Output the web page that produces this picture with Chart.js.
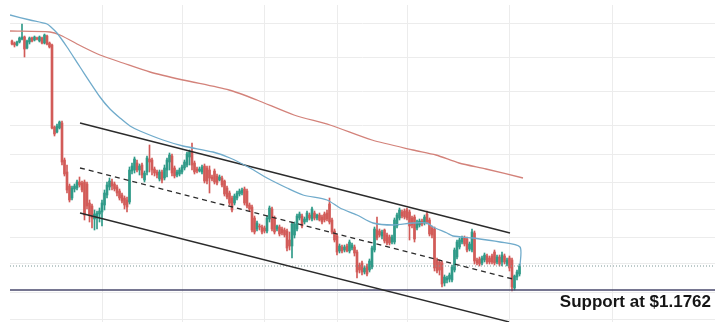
<!DOCTYPE html>
<html>
<head>
<meta charset="utf-8">
<title>EUR/USD channel</title>
<script src="https://cdn.jsdelivr.net/npm/chart.js@4.4.1/dist/chart.umd.min.js"></script>
<style>
  html, body { margin: 0; padding: 0; background: #fff; }
  #chart { display: block; }
</style>
</head>
<body>
<canvas id="chart" width="715" height="322"></canvas>
<script>
// OHLC candles, one per bar index
const opens = [
  1.2011,1.2009,1.2007,1.2010,1.2013,1.2015,1.2004,1.2010,1.2014,1.2012,1.2014,1.2011,
  1.2014,1.2009,1.2016,1.2009,1.2007,1.1925,1.1920,1.1924,1.1929,1.1892,1.1880,1.1866,
  1.1854,1.1863,1.1864,1.1870,1.1869,1.1870,1.1868,1.1849,1.1846,1.1833,1.1834,1.1838,
  1.1840,1.1847,1.1857,1.1865,1.1870,1.1868,1.1865,1.1861,1.1857,1.1854,1.1852,1.1850,
  1.1881,1.1882,1.1889,1.1882,1.1887,1.1872,1.1880,1.1893,1.1892,1.1883,1.1880,1.1873,
  1.1880,1.1874,1.1882,1.1890,1.1896,1.1884,1.1877,1.1878,1.1880,1.1884,1.1887,1.1895,
  1.1900,1.1889,1.1883,1.1881,1.1880,1.1886,1.1884,1.1882,1.1875,1.1881,1.1876,1.1872,
  1.1874,1.1871,1.1864,1.1859,1.1854,1.1849,1.1854,1.1858,1.1859,1.1863,1.1861,1.1847,
  1.1845,1.1834,1.1823,1.1826,1.1825,1.1824,1.1821,1.1833,1.1843,1.1834,1.1823,1.1825,
  1.1823,1.1822,1.1821,1.1812,1.1806,1.1817,1.1823,1.1834,1.1836,1.1830,1.1832,1.1837,
  1.1833,1.1839,1.1834,1.1837,1.1835,1.1838,1.1839,1.1848,1.1832,1.1821,1.1816,1.1801,
  1.1805,1.1802,1.1806,1.1801,1.1804,1.1805,1.1800,1.1787,1.1789,1.1780,1.1786,1.1782,
  1.1785,1.1802,1.1822,1.1821,1.1816,1.1822,1.1817,1.1815,1.1810,1.1810,1.1826,1.1834,
  1.1840,1.1841,1.1842,1.1840,1.1834,1.1835,1.1824,1.1827,1.1831,1.1829,1.1838,1.1832,
  1.1824,1.1823,1.1792,1.1790,1.1789,1.1769,1.1772,1.1773,1.1772,1.1782,1.1795,1.1805,
  1.1810,1.1814,1.1813,1.1803,1.1802,1.1819,1.1792,1.1793,1.1789,1.1792,1.1796,1.1794,
  1.1796,1.1800,1.1790,1.1795,1.1790,1.1796,1.1788,1.1794,1.1792,1.1764,1.1775,1.1778
];
const highs = [
  1.2012,1.2010,1.2011,1.2015,1.2028,1.2016,1.2012,1.2015,1.2015,1.2016,1.2015,1.2016,
  1.2015,1.2018,1.2017,1.2010,1.2008,1.1926,1.1928,1.1931,1.1931,1.1894,1.1887,1.1868,
  1.1866,1.1868,1.1872,1.1875,1.1871,1.1872,1.1870,1.1852,1.1848,1.1842,1.1841,1.1844,
  1.1852,1.1862,1.1870,1.1874,1.1873,1.1870,1.1867,1.1863,1.1859,1.1856,1.1855,1.1885,
  1.1889,1.1895,1.1892,1.1888,1.1889,1.1881,1.1896,1.1907,1.1894,1.1885,1.1882,1.1882,
  1.1882,1.1887,1.1894,1.1899,1.1898,1.1886,1.1882,1.1884,1.1887,1.1892,1.1900,1.1902,
  1.1909,1.1891,1.1885,1.1885,1.1887,1.1888,1.1886,1.1886,1.1877,1.1883,1.1878,1.1877,
  1.1876,1.1872,1.1866,1.1861,1.1856,1.1858,1.1861,1.1863,1.1864,1.1865,1.1863,1.1849,
  1.1847,1.1836,1.1831,1.1828,1.1827,1.1826,1.1836,1.1846,1.1845,1.1836,1.1827,1.1827,
  1.1825,1.1824,1.1823,1.1820,1.1830,1.1830,1.1838,1.1840,1.1838,1.1835,1.1841,1.1839,
  1.1845,1.1841,1.1838,1.1839,1.1837,1.1840,1.1842,1.1854,1.1834,1.1823,1.1818,1.1808,
  1.1807,1.1807,1.1808,1.1812,1.1809,1.1807,1.1802,1.1789,1.1791,1.1786,1.1788,1.1793,
  1.1806,1.1825,1.1835,1.1823,1.1822,1.1823,1.1819,1.1817,1.1817,1.1834,1.1839,1.1844,
  1.1842,1.1843,1.1844,1.1842,1.1836,1.1837,1.1832,1.1833,1.1833,1.1837,1.1841,1.1834,
  1.1826,1.1825,1.1794,1.1792,1.1791,1.1777,1.1776,1.1779,1.1787,1.1804,1.1812,1.1814,
  1.1816,1.1816,1.1815,1.1810,1.1823,1.1821,1.1794,1.1795,1.1796,1.1799,1.1798,1.1796,
  1.1798,1.1802,1.1797,1.1797,1.1800,1.1798,1.1794,1.1796,1.1794,1.1777,1.1782,1.1788
];
const lows = [
  1.2007,1.2005,1.2006,1.2009,1.2012,1.1995,1.2003,1.2008,1.2010,1.2011,1.2012,1.2010,
  1.2008,1.2008,1.2007,1.2004,1.1923,1.1916,1.1919,1.1923,1.1887,1.1876,1.1859,1.1850,
  1.1852,1.1860,1.1862,1.1865,1.1860,1.1832,1.1843,1.1830,1.1824,1.1822,1.1823,1.1830,
  1.1826,1.1842,1.1854,1.1862,1.1862,1.1861,1.1856,1.1852,1.1849,1.1843,1.1840,1.1848,
  1.1878,1.1879,1.1880,1.1877,1.1874,1.1870,1.1877,1.1880,1.1877,1.1876,1.1874,1.1871,
  1.1869,1.1872,1.1875,1.1882,1.1876,1.1874,1.1875,1.1876,1.1878,1.1882,1.1885,1.1887,
  1.1882,1.1878,1.1879,1.1880,1.1878,1.1869,1.1868,1.1859,1.1871,1.1868,1.1867,1.1871,
  1.1865,1.1856,1.1853,1.1847,1.1840,1.1847,1.1852,1.1856,1.1857,1.1847,1.1844,1.1841,
  1.1820,1.1818,1.1821,1.1822,1.1818,1.1819,1.1819,1.1830,1.1821,1.1818,1.1821,1.1816,
  1.1817,1.1815,1.1801,1.1802,1.1794,1.1814,1.1821,1.1832,1.1824,1.1828,1.1830,1.1832,
  1.1831,1.1832,1.1832,1.1831,1.1828,1.1830,1.1831,1.1828,1.1818,1.1810,1.1797,1.1799,
  1.1799,1.1800,1.1800,1.1799,1.1802,1.1796,1.1774,1.1779,1.1777,1.1778,1.1776,1.1780,
  1.1783,1.1800,1.1812,1.1815,1.1813,1.1809,1.1807,1.1807,1.1808,1.1808,1.1824,1.1832,
  1.1834,1.1833,1.1832,1.1812,1.1824,1.1810,1.1822,1.1825,1.1826,1.1827,1.1828,1.1816,
  1.1814,1.1781,1.1779,1.1777,1.1765,1.1766,1.1769,1.1770,1.1770,1.1780,1.1793,1.1803,
  1.1808,1.1806,1.1800,1.1801,1.1800,1.1788,1.1787,1.1786,1.1787,1.1790,1.1788,1.1788,
  1.1788,1.1787,1.1788,1.1786,1.1786,1.1788,1.1786,1.1781,1.1761,1.1762,1.1772,1.1776
];
const closes = [
  1.2008,1.2007,1.2010,1.2014,1.2015,1.2003,1.2011,1.2014,1.2011,1.2015,1.2013,1.2015,
  1.2009,1.2017,1.2008,1.2005,1.1924,1.1918,1.1926,1.1930,1.1890,1.1878,1.1862,1.1852,
  1.1864,1.1866,1.1870,1.1867,1.1862,1.1837,1.1846,1.1837,1.1834,1.1838,1.1839,1.1841,
  1.1849,1.1859,1.1867,1.1871,1.1866,1.1863,1.1859,1.1854,1.1851,1.1847,1.1845,1.1882,
  1.1886,1.1893,1.1882,1.1886,1.1877,1.1879,1.1894,1.1890,1.1882,1.1879,1.1877,1.1880,
  1.1872,1.1884,1.1892,1.1897,1.1879,1.1876,1.1880,1.1882,1.1885,1.1890,1.1898,1.1900,
  1.1887,1.1880,1.1881,1.1883,1.1885,1.1871,1.1871,1.1874,1.1873,1.1870,1.1869,1.1875,
  1.1867,1.1858,1.1855,1.1849,1.1842,1.1856,1.1859,1.1861,1.1862,1.1849,1.1846,1.1843,
  1.1822,1.1820,1.1829,1.1825,1.1820,1.1821,1.1834,1.1844,1.1823,1.1820,1.1826,1.1818,
  1.1819,1.1817,1.1804,1.1806,1.1828,1.1828,1.1836,1.1838,1.1826,1.1833,1.1839,1.1834,
  1.1843,1.1834,1.1837,1.1832,1.1830,1.1832,1.1833,1.1830,1.1820,1.1812,1.1800,1.1806,
  1.1801,1.1805,1.1801,1.1810,1.1807,1.1799,1.1780,1.1782,1.1780,1.1784,1.1778,1.1791,
  1.1804,1.1823,1.1814,1.1817,1.1820,1.1811,1.1809,1.1809,1.1815,1.1832,1.1837,1.1842,
  1.1836,1.1835,1.1834,1.1826,1.1827,1.1813,1.1830,1.1831,1.1828,1.1835,1.1830,1.1818,
  1.1817,1.1784,1.1781,1.1782,1.1768,1.1775,1.1774,1.1777,1.1785,1.1802,1.1810,1.1812,
  1.1814,1.1808,1.1802,1.1808,1.1820,1.1791,1.1789,1.1788,1.1794,1.1797,1.1790,1.1790,
  1.1790,1.1789,1.1795,1.1788,1.1797,1.1790,1.1792,1.1784,1.1765,1.1776,1.1780,1.1786
];

// Moving averages: bar index / price pairs
const fastMaX = [-0.8, 7.2, 14, 16, 18, 22, 27.2, 35.2, 39.2, 43.2, 47.2, 51.2, 60.4, 68.4, 80.4, 87.2,
  95.2, 102, 110, 116.4, 126, 131.2, 138, 144.4, 152.4, 160.4, 166, 168.4, 174, 176.4, 184.4, 195.2, 203.2, 203.2];
const fastMaY = [1.2037, 1.2032, 1.2028, 1.2024, 1.2019, 1.2005, 1.1985, 1.1955, 1.1943, 1.1934, 1.1926, 1.1921,
  1.1912, 1.1906, 1.1900, 1.1894, 1.1884, 1.1874, 1.1864, 1.1857, 1.1852, 1.1844, 1.1837, 1.1829, 1.1827,
  1.1829, 1.1829, 1.1825, 1.1819, 1.1816, 1.1814, 1.1810, 1.1805, 1.1786];
const slowMaX = [-0.8, 15.2, 19.2, 28.4, 35.2, 44.4, 55.2, 68.4, 86.8, 98, 112.8, 127.2, 144, 160.4, 169.6, 178.8, 189.6, 204.4];
const slowMaY = [1.2021, 1.2020, 1.2017, 1.2005, 1.1997, 1.1989, 1.1980, 1.1972, 1.1962, 1.1952, 1.1937, 1.1927,
  1.1912, 1.1902, 1.1897, 1.1889, 1.1883, 1.1874];

// Trend channel: start / end of each rail
const channelX = [27.2, 199.2];
const channelTop = [1.1929, 1.1819];
const channelMidX = [27.2, 200.4];
const channelMid = [1.1884, 1.1773];
const channelLowX = [27.2, 198.8];
const channelLow = [1.1839, 1.1730];

const supportLevel = 1.1762;

// Gridlines: session breaks on x, price levels on y
const dayBreaks = [36, 68, 101, 130, 158, 199, 240];
const priceLevels = [1.2029, 1.1995, 1.1961, 1.1926, 1.1898, 1.1870, 1.1843, 1.1815, 1.1788, 1.1760, 1.1733];

const xMin = -0.8, xMax = 281.2;
const yMin = 1.1730, yMax = 1.2047;

const bullColor = '#2f9a88';
const bearColor = '#d25b58';
const candleColors = closes.map((c, i) => c >= opens[i] ? bullColor : bearColor);

const toPoints = (xs, ys) => xs.map((x, i) => ({ x, y: ys[i] }));
const lastClose = closes[closes.length - 1];

const supportLabel = {
  id: 'supportLabel',
  afterDatasetsDraw(chart) {
    const { ctx, chartArea, scales } = chart;
    const y = scales.y.getPixelForValue(supportLevel);
    ctx.save();
    ctx.font = 'bold 17px "Liberation Sans", Arial, sans-serif';
    ctx.fillStyle = '#151515';
    ctx.textAlign = 'right';
    ctx.textBaseline = 'alphabetic';
    ctx.fillText('Support at $' + supportLevel.toFixed(4), chartArea.right - 4, y + 17);
    ctx.restore();
  }
};

const lineStyle = { type: 'line', pointRadius: 0, fill: false, order: 0 };

new Chart(document.getElementById('chart'), {
  type: 'bar',
  data: {
    datasets: [
      { ...lineStyle, data: toPoints(fastMaX, fastMaY), borderColor: '#70abcb', borderWidth: 1.3, tension: 0.25 },
      { ...lineStyle, data: toPoints(slowMaX, slowMaY), borderColor: '#d3827a', borderWidth: 1.3, tension: 0.25 },
      { ...lineStyle, data: toPoints(channelX, channelTop), borderColor: '#2b2b2b', borderWidth: 1.3 },
      { ...lineStyle, data: toPoints(channelMidX, channelMid), borderColor: '#2b2b2b', borderWidth: 1.3, borderDash: [5, 4] },
      { ...lineStyle, data: toPoints(channelLowX, channelLow), borderColor: '#2b2b2b', borderWidth: 1.3 },
      { ...lineStyle, data: toPoints([xMin, xMax], [supportLevel, supportLevel]), borderColor: '#48486c', borderWidth: 1.5 },
      { ...lineStyle, data: toPoints([xMin, xMax], [lastClose, lastClose]), borderColor: '#7c9696', borderWidth: 1, borderDash: [1, 2] },
      {
        type: 'bar',
        data: opens.map((o, i) => ({ x: i, y: [o, closes[i]] })),
        backgroundColor: candleColors,
        borderWidth: 0,
        barThickness: 2,
        grouped: false,
        order: 1
      },
      {
        type: 'bar',
        data: opens.map((o, i) => ({ x: i, y: [lows[i], highs[i]] })),
        backgroundColor: candleColors,
        borderWidth: 0,
        barThickness: 1,
        grouped: false,
        order: 2
      }
    ]
  },
  options: {
    responsive: false,
    animation: false,
    layout: { padding: { left: 10, top: 5, right: 0, bottom: 0 } },
    plugins: { legend: { display: false }, tooltip: { enabled: false } },
    scales: {
      x: {
        type: 'linear',
        offset: false,
        min: xMin,
        max: xMax,
        afterBuildTicks: axis => { axis.ticks = dayBreaks.map(v => ({ value: v })); },
        grid: { color: '#ececec', drawTicks: false, offset: false },
        border: { display: false },
        ticks: { display: false }
      },
      y: {
        type: 'linear',
        min: yMin,
        max: yMax,
        afterBuildTicks: axis => { axis.ticks = priceLevels.map(v => ({ value: v })); },
        grid: { color: '#ececec', drawTicks: false },
        border: { display: false },
        ticks: { display: false }
      }
    }
  },
  plugins: [supportLabel]
});
</script>
</body>
</html>
